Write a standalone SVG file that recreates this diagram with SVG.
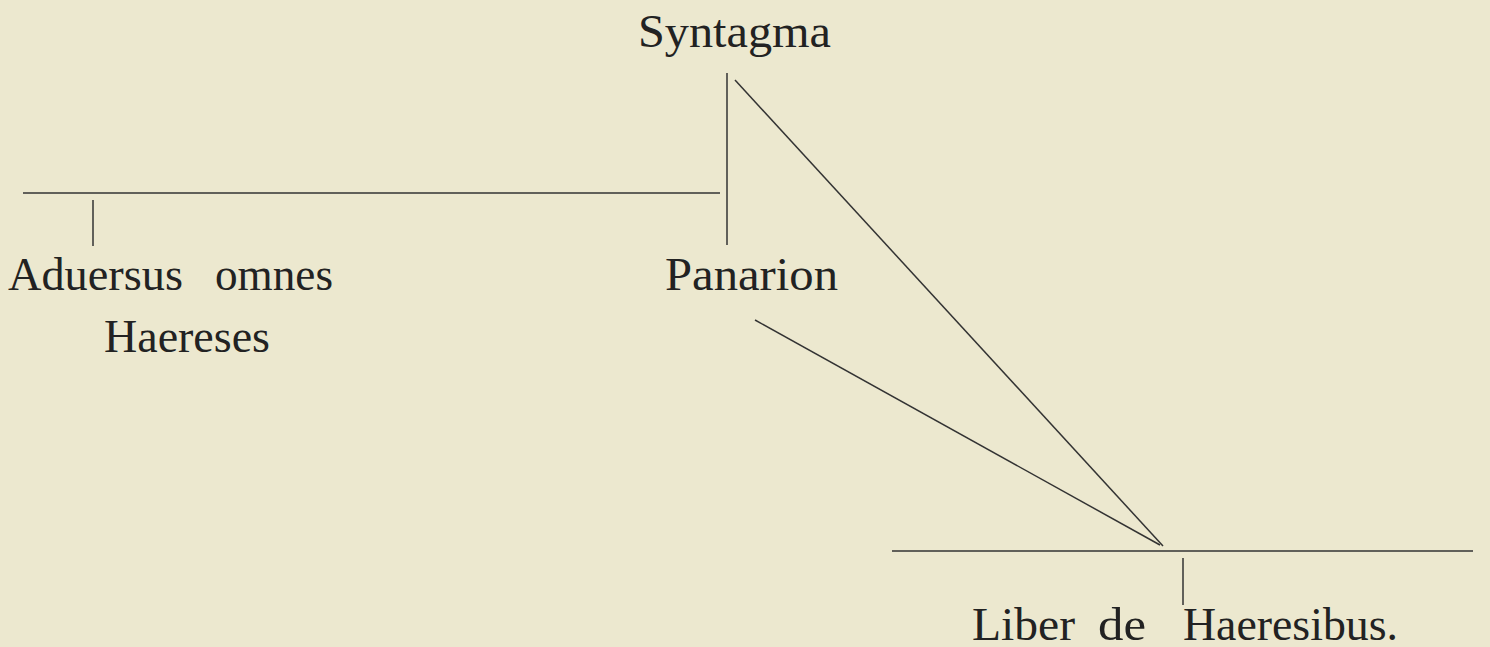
<svg xmlns="http://www.w3.org/2000/svg" width="1490" height="647" viewBox="0 0 1490 647">
<style>
.t{font-family:"Liberation Serif","DejaVu Serif",serif;font-size:46px;fill:#222}
.c line{stroke:#333;stroke-width:1.5;fill:none}
</style>
<rect width="1490" height="647" fill="#ece8cf"/>
<g id="syntagma"><text class="t" x="638" y="47" textLength="193" lengthAdjust="spacingAndGlyphs">Syntagma</text></g>
<g id="aduersus"><text class="t" x="8" y="290" textLength="175" lengthAdjust="spacingAndGlyphs">Aduersus</text><text class="t" x="215" y="290" textLength="118" lengthAdjust="spacingAndGlyphs">omnes</text><text class="t" x="104" y="352" textLength="166" lengthAdjust="spacingAndGlyphs">Haereses</text></g>
<g id="panarion"><text class="t" x="665" y="290" textLength="173" lengthAdjust="spacingAndGlyphs">Panarion</text></g>
<g id="liber"><text class="t" x="972" y="640" textLength="103" lengthAdjust="spacingAndGlyphs">Liber</text><text class="t" x="1098" y="640" textLength="48" lengthAdjust="spacingAndGlyphs">de</text><text class="t" x="1183" y="640" textLength="215" lengthAdjust="spacingAndGlyphs">Haeresibus.</text></g>
<g class="c" id="connectors">
<line x1="727" y1="73" x2="727" y2="245"/>
<line x1="735" y1="80" x2="1163" y2="546"/>
<line x1="23" y1="193" x2="720" y2="193"/>
<line x1="93" y1="200" x2="93" y2="246"/>
<line x1="755" y1="320" x2="1160" y2="545"/>
<line x1="892" y1="551" x2="1473" y2="551"/>
<line x1="1183" y1="558" x2="1183" y2="605"/>
</g>
</svg>
